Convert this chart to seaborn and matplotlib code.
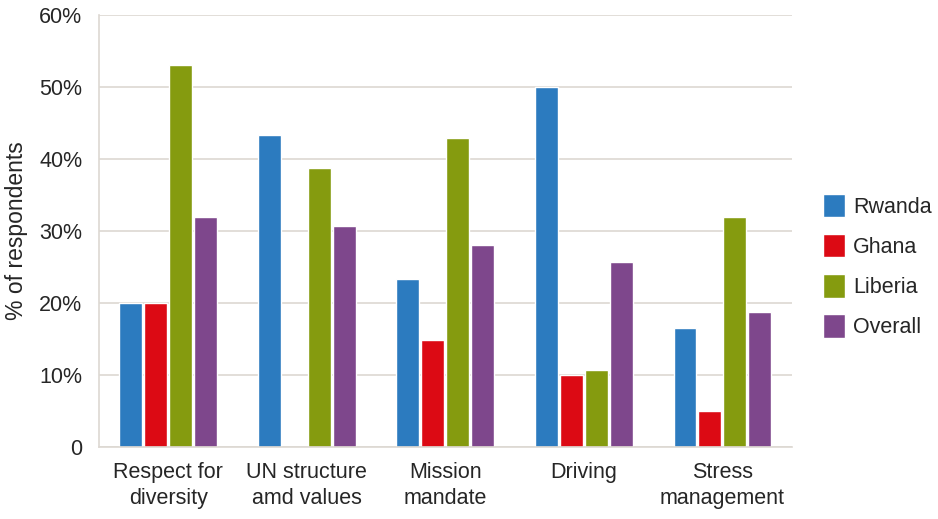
import matplotlib
matplotlib.use("Agg")
import matplotlib.pyplot as plt
import matplotlib.ticker as mticker
import numpy as np
import pandas as pd
import seaborn as sns

categories = ["Respect for\ndiversity", "UN structure\namd values", "Mission\nmandate",
              "Driving", "Stress\nmanagement"]
rwanda = [20.0, 43.3, 23.3, 50.0, 16.6]
ghana = [20.0, np.nan, 14.8, 10.0, 5.0]
liberia = [53.0, 38.7, 42.9, 10.7, 32.0]
overall = [32.0, 30.7, 28.1, 25.7, 18.8]
groups = ["Rwanda", "Ghana", "Liberia", "Overall"]
colors = ["#2C7BBF", "#DC0A14", "#859B0F", "#7E478C"]

rows = []
for g, vals in zip(groups, [rwanda, ghana, liberia, overall]):
    for c, v in zip(categories, vals):
        rows.append({"category": c, "group": g, "value": v})
df = pd.DataFrame(rows)

sns.set_style("white")
plt.rcParams["font.family"] = ["Liberation Sans", "DejaVu Sans"]
text_color = "#262626"
line_color = "#DDD8D2"
fs = 15.5

fig = plt.figure(figsize=(9.38, 5.19), dpi=100)
ax = fig.add_axes([0.1055, 0.1387, 0.7385, 0.8323])

sns.barplot(data=df, x="category", y="value", hue="group", order=categories,
            hue_order=groups, palette=colors, width=0.72, gap=0.08,
            saturation=1, ax=ax, errorbar=None)

ax.set_ylim(0, 60)
ax.set_xlim(-0.5, len(categories) - 0.5)
ax.yaxis.set_major_locator(mticker.MultipleLocator(10))
ax.yaxis.set_major_formatter(mticker.FuncFormatter(lambda v, p: "0" if v == 0 else f"{v:.0f}%"))
ax.grid(axis="y", color=line_color, linewidth=1.2)
ax.set_axisbelow(True)

for s in ["top", "right"]:
    ax.spines[s].set_visible(False)
for s in ["left", "bottom"]:
    ax.spines[s].set_color(line_color)
    ax.spines[s].set_linewidth(1.2)

ax.set_xticks(np.arange(0.5, len(categories) - 0.5), minor=True)
ax.tick_params(axis="x", which="minor", direction="in", length=9, color=line_color, width=1.2)
ax.tick_params(axis="x", which="major", length=0, pad=11, labelsize=fs, labelcolor=text_color)
ax.tick_params(axis="y", length=0, pad=12, labelsize=fs, labelcolor=text_color)
for lab in ax.get_xticklabels():
    lab.set_linespacing(1.3)

ax.set_xlabel("")
ax.set_ylabel("% of respondents", fontsize=16.5, color=text_color, labelpad=8)

ax.legend(loc="center left", bbox_to_anchor=(0.877, 0.4875), bbox_transform=fig.transFigure,
          frameon=False, fontsize=fs, borderaxespad=0, borderpad=0,
          handlelength=1.05, handleheight=1.3, labelspacing=0.75, handletextpad=0.35,
          labelcolor=text_color)

fig.savefig("out.png", dpi=100)
